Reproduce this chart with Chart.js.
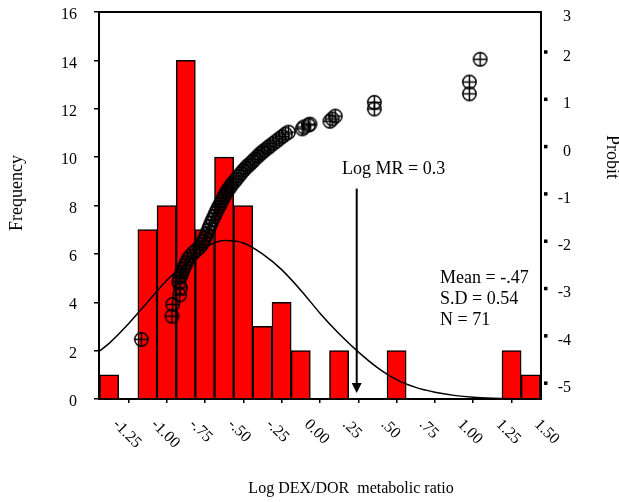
<!DOCTYPE html>
<html>
<head>
<meta charset="utf-8">
<script src="https://cdn.jsdelivr.net/npm/chart.js@4"></script>
<style>
  body { margin: 0; background: #fff; }
</style>
</head>
<body>
<canvas id="chart" width="619" height="502"></canvas>
<script>
// histogram: bin centres (log DEX/DOR) and counts
const binCenters = [-1.25, -1.125, -1.0, -0.875, -0.75, -0.625, -0.5, -0.375, -0.25, -0.125, 0, 0.125,
  0.25, 0.375, 0.5, 0.625, 0.75, 0.875, 1.0, 1.125, 1.25, 1.375, 1.5];
const frequency = [1, 0, 7, 8, 14, 7, 10, 8, 3, 4, 2, 0, 2, 0, 0, 2, 0, 0, 0, 0, 0, 2, 1];

// fitted normal curve
const curveX = [-1.32, -1.25, -1.125, -1.0, -0.875, -0.75, -0.625, -0.5, -0.375, -0.25, -0.125, 0,
  0.125, 0.25, 0.375, 0.5, 0.625, 0.75, 0.875, 1.0, 1.125, 1.25, 1.375, 1.5, 1.57];
const curveY = [1.95, 2.3, 3.1, 4.0, 4.9, 5.6, 6.25, 6.55, 6.45, 6.0, 5.35, 4.5,
  3.55, 2.7, 1.95, 1.3, 0.8, 0.48, 0.28, 0.15, 0.07, 0.03, 0.01, 0, 0];

// probit plot (right axis)
const probitX = [-1.04, -0.84, -0.835, -0.79, -0.785, -0.795, -0.79, -0.78, -0.775, -0.765,
  -0.755, -0.745, -0.735, -0.72, -0.70, -0.68, -0.66, -0.645, -0.635, -0.625,
  -0.615, -0.605, -0.595, -0.585, -0.575, -0.565, -0.555, -0.545, -0.535, -0.525,
  -0.515, -0.505, -0.495, -0.485, -0.475, -0.46, -0.45, -0.435, -0.42, -0.405,
  -0.39, -0.375, -0.36, -0.345, -0.33, -0.315, -0.30, -0.28, -0.265, -0.25,
  -0.235, -0.215, -0.20, -0.18, -0.16, -0.14, -0.12, -0.10, -0.08, 0.01,
  0.02, 0.05, 0.06, 0.19, 0.205, 0.225, 0.48, 0.48, 1.10, 1.10, 1.17];
const probitY = [-4.08, -3.59, -3.34, -3.14, -2.99, -2.88, -2.77, -2.72, -2.66, -2.59,
  -2.52, -2.45, -2.38, -2.32, -2.25, -2.19, -2.13, -2.07, -2.01, -1.94,
  -1.86, -1.78, -1.70, -1.62, -1.55, -1.48, -1.41, -1.34, -1.28, -1.22,
  -1.15, -1.09, -1.03, -0.97, -0.92, -0.86, -0.80, -0.75, -0.69, -0.63,
  -0.57, -0.51, -0.46, -0.41, -0.37, -0.32, -0.27, -0.21, -0.16, -0.12,
  -0.08, -0.03, 0.01, 0.06, 0.11, 0.16, 0.21, 0.26, 0.30, 0.37,
  0.41, 0.45, 0.47, 0.53, 0.58, 0.64, 0.79, 0.93, 1.11, 1.36, 1.84];

// axes
const xTickValues = [-1.25, -1.0, -0.75, -0.5, -0.25, 0, 0.25, 0.5, 0.75, 1.0, 1.25, 1.5];
const xTickLabels = ['-1.25', '-1.00', '-.75', '-.50', '-.25', '0.00', '.25', '.50', '.75', '1.00', '1.25', '1.50'];
const freqTicks = [0, 2, 4, 6, 8, 10, 12, 14, 16];
const probitTicks = [-5, -4, -3, -2, -1, 0, 1, 2];
const probitTopLabel = '3';

// annotations
const markerX = 0.365;
const markerLabel = 'Log MR = 0.3';
const statsLines = ['Mean = -.47', 'S.D = 0.54', 'N = 71'];

Chart.defaults.font.family = '"Liberation Serif", "Times New Roman", serif';
Chart.defaults.font.size = 16;
Chart.defaults.color = '#000';

// circle with a plus inside, for the probit points
const circlePlus = document.createElement('canvas');
circlePlus.width = 17;
circlePlus.height = 17;
(function () {
  const c = circlePlus.getContext('2d');
  c.strokeStyle = '#000';
  c.lineWidth = 1.5;
  c.beginPath();
  c.arc(8.5, 8.5, 6.7, 0, Math.PI * 2);
  c.moveTo(1.8, 8.5); c.lineTo(15.2, 8.5);
  c.moveTo(8.5, 1.8); c.lineTo(8.5, 15.2);
  c.stroke();
})();

const noPad = s => { s.paddingTop = 0; s.paddingBottom = 0; s.paddingLeft = 0; s.paddingRight = 0; };

const extras = {
  id: 'extras',
  afterDraw(chart) {
    const { ctx, chartArea: a, scales: { x, y, y1 } } = chart;
    ctx.save();
    ctx.strokeStyle = '#000';
    ctx.fillStyle = '#000';

    // top frame line
    ctx.lineWidth = 2;
    ctx.beginPath();
    ctx.moveTo(a.left - 1, a.top);
    ctx.lineTo(a.right + 1, a.top);
    ctx.stroke();

    // probit tick dots
    probitTicks.forEach(v => {
      const py = y1.getPixelForValue(v);
      ctx.fillRect(a.right + 3, py - 1.5, 3.5, 3.5);
    });

    // rotated x tick labels
    ctx.font = '16px "Liberation Serif"';
    ctx.textAlign = 'left';
    ctx.textBaseline = 'middle';
    xTickValues.forEach((v, i) => {
      const px = x.getPixelForValue(v);
      ctx.save();
      ctx.translate(px + 6, a.bottom + 23);
      ctx.rotate(Math.PI / 4);
      ctx.fillText(xTickLabels[i], 0, 0);
      ctx.restore();
    });

    // axis titles
    ctx.textAlign = 'center';
    ctx.textBaseline = 'alphabetic';
    ctx.fillText('Log DEX/DOR  metabolic ratio', 351, 493);
    ctx.font = '18px "Liberation Serif"';
    ctx.textBaseline = 'middle';
    ctx.save();
    ctx.translate(17, 193);
    ctx.rotate(-Math.PI / 2);
    ctx.fillText('Frequency', 0, 0);
    ctx.restore();
    ctx.save();
    ctx.translate(612, 157);
    ctx.rotate(Math.PI / 2);
    ctx.fillText('Probit', 0, 0);
    ctx.restore();

    // arrow for the metabolic ratio cut-off
    const ax = x.getPixelForValue(markerX);
    const top = y.getPixelForValue(8.7);
    const tip = y.getPixelForValue(0.25);
    ctx.lineWidth = 2;
    ctx.beginPath();
    ctx.moveTo(ax, top);
    ctx.lineTo(ax, tip - 8);
    ctx.stroke();
    ctx.beginPath();
    ctx.moveTo(ax - 5, tip - 10);
    ctx.lineTo(ax + 5, tip - 10);
    ctx.lineTo(ax, tip);
    ctx.closePath();
    ctx.fill();

    ctx.textAlign = 'left';
    ctx.textBaseline = 'alphabetic';
    ctx.fillText(markerLabel, 342, 174);
    statsLines.forEach((t, i) => ctx.fillText(t, 440, 283 + i * 21));

    ctx.restore();
  }
};

new Chart(document.getElementById('chart'), {
  type: 'bar',
  data: {
    datasets: [
      {
        type: 'scatter',
        data: probitX.map((v, i) => ({ x: v, y: probitY[i] })),
        yAxisID: 'y1',
        pointStyle: circlePlus,
        pointRadius: 7,
        order: 1
      },
      {
        type: 'line',
        data: curveX.map((v, i) => ({ x: v, y: curveY[i] })),
        yAxisID: 'y',
        borderColor: '#000',
        borderWidth: 1.5,
        pointRadius: 0,
        cubicInterpolationMode: 'monotone',
        fill: false,
        order: 2
      },
      {
        type: 'bar',
        data: binCenters.map((v, i) => ({ x: v, y: frequency[i] })),
        yAxisID: 'y',
        backgroundColor: '#ff0000',
        borderColor: '#000',
        borderWidth: 1.5,
        barPercentage: 1,
        categoryPercentage: 1,
        order: 3
      }
    ]
  },
  options: {
    responsive: false,
    devicePixelRatio: 1,
    animation: false,
    layout: { autoPadding: false, padding: { top: 12, left: 0, right: 48, bottom: 0 } },
    plugins: { legend: { display: false }, tooltip: { enabled: false } },
    scales: {
      x: {
        type: 'linear',
        position: 'bottom',
        offset: false,
        min: -1.316,
        max: 1.567,
        afterBuildTicks: s => { s.ticks = xTickValues.map(v => ({ value: v })); },
        afterFit: s => { s.height = 103; noPad(s); },
        ticks: { display: false },
        grid: { drawOnChartArea: false, color: '#000', lineWidth: 1.5, tickLength: 4 },
        border: { color: '#000', width: 2 }
      },
      y: {
        position: 'left',
        min: 0,
        max: 16,
        afterBuildTicks: s => { s.ticks = freqTicks.map(v => ({ value: v })); },
        afterFit: s => { s.width = 99; noPad(s); },
        ticks: { padding: 17, labelOffset: 3 },
        grid: { drawOnChartArea: false, color: '#000', lineWidth: 1.5, tickLength: 5 },
        border: { color: '#000', width: 2 }
      },
      y1: {
        position: 'right',
        min: -5.34,
        max: 2.84,
        afterBuildTicks: s => {
          s.ticks = probitTicks.map(v => ({ value: v }));
          s.ticks.push({ value: s.max });
        },
        afterFit: s => { s.width = 30; noPad(s); },
        ticks: {
          padding: 17,
          crossAlign: 'far',
          labelOffset: 5,
          callback: (v, i, arr) => (i === arr.length - 1 ? probitTopLabel : String(v))
        },
        grid: { drawOnChartArea: false, drawTicks: false, color: '#000' },
        border: { color: '#000', width: 2 }
      }
    }
  },
  plugins: [extras]
});
</script>
</body>
</html>
